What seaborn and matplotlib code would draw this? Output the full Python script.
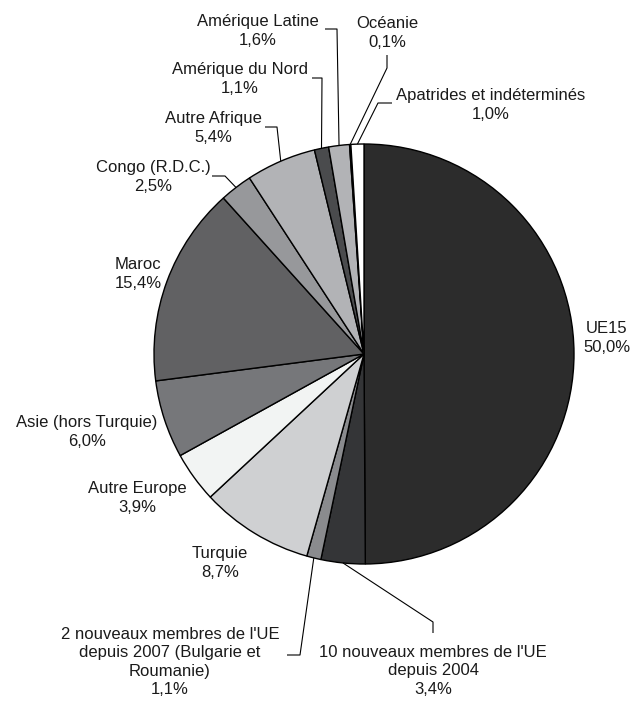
import numpy as np
import matplotlib
matplotlib.use("Agg")
import matplotlib.pyplot as plt
import seaborn as sns

# ---- data ----
categories = ["UE15", "10 nouveaux membres de l'UE\ndepuis 2004",
              "2 nouveaux membres de l'UE\ndepuis 2007 (Bulgarie et\nRoumanie)",
              "Turquie", "Autre Europe", "Asie (hors Turquie)", "Maroc",
              "Congo (R.D.C.)", "Autre Afrique", "Amérique du Nord",
              "Amérique Latine", "Océanie", "Apatrides et indéterminés"]
values = [50.0, 3.4, 1.1, 8.7, 3.9, 6.0, 15.4, 2.5, 5.4, 1.1, 1.6, 0.1, 1.0]
value_labels = ["50,0%", "3,4%", "1,1%", "8,7%", "3,9%", "6,0%", "15,4%",
                "2,5%", "5,4%", "1,1%", "1,6%", "0,1%", "1,0%"]
colors = ["#2c2c2c", "#343537", "#8a8b8e", "#cfd0d2", "#f2f4f3", "#76777a",
          "#616163", "#97989b", "#b2b3b6", "#4a4b4d", "#b2b3b6", "#ffffff", "#ffffff"]

sns.set_theme(style="white")
plt.rcParams['font.family'] = ['Liberation Sans', 'DejaVu Sans']

W, H = 632, 702
fig = plt.figure(figsize=(W / 100, H / 100), dpi=100)
ax = fig.add_axes([0, 0, 1, 1])
ax.set_xlim(0, W)
ax.set_ylim(0, H)
ax.set_aspect('equal')
ax.axis('off')

cx, cy, R = 364, H - 354, 210
wedges, _ = ax.pie(values, colors=colors, startangle=90, counterclock=False,
                   center=(cx, cy), radius=R, frame=True,
                   wedgeprops=dict(edgecolor="black", linewidth=1.0))
ax.set_xlim(0, W)
ax.set_ylim(0, H)
ax.axis('off')

# label layout (pixel coords, y from top): text center, elbow path (from text side)
layout = [
    ((607, 338), None),
    ((433, 671), [(433, 633), (433, 622)]),
    ((170, 662), [(287, 655), (300, 655)]),
    ((220, 563), None),
    ((137, 498), None),
    ((87, 432), None),
    ((138, 274), None),
    ((153, 177), [(212, 176), (225, 176)]),
    ((213, 128), [(265, 127), (277, 127)]),
    ((240, 79), [(312, 78), (322, 78)]),
    ((258, 31), [(325, 29), (337, 29)]),
    ((387, 33), [(387, 55), (387, 68)]),
    ((491, 105), [(392, 103), (378, 103)]),
]

for w, cat, vl, ((tx, ty), path) in zip(wedges, categories, value_labels, layout):
    ax.text(tx, H - ty, f"{cat}\n{vl}", ha="center", va="center",
            fontsize=12, linespacing=1.3, color="#1a1a1a")
    if path is not None:
        th = np.deg2rad((w.theta1 + w.theta2) / 2)
        px, py = cx + R * np.cos(th), cy + R * np.sin(th)
        xs = [p[0] for p in path] + [px]
        ys = [H - p[1] for p in path] + [py]
        ax.plot(xs, ys, color="black", linewidth=0.8, solid_capstyle="butt")

fig.savefig("out.png", dpi=100, facecolor="white")
